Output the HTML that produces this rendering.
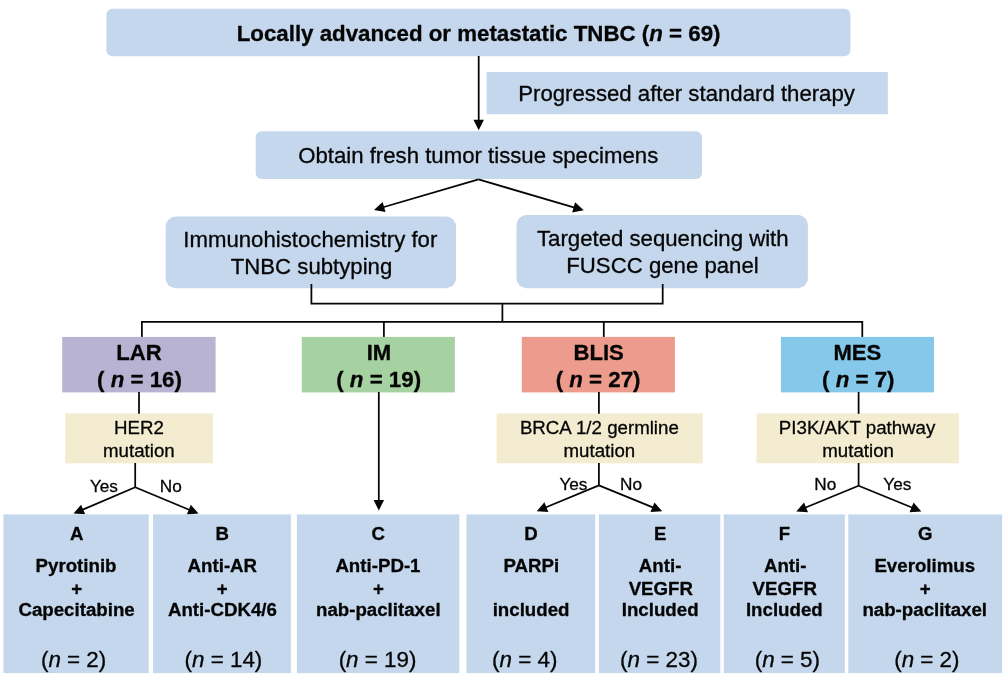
<!DOCTYPE html>
<html lang="en">
<head>
<meta charset="utf-8">
<title>TNBC trial flowchart</title>
<style>
html,body{margin:0;padding:0;background:#ffffff;}
body{width:1004px;height:675px;overflow:hidden;}
svg{display:block;}
#chart{filter:blur(0.45px);}
svg text{font-family:"Liberation Sans",Arial,Helvetica,sans-serif;fill:#050505;stroke:#050505;stroke-width:0.3px;stroke-linejoin:round;}
</style>
</head>
<body>
<svg width="1004" height="675" viewBox="0 0 1004 675">
<rect x="0" y="0" width="1004" height="675" fill="#ffffff"/>
<g id="chart">
<g id="shapes">
<rect x="106.4" y="8.7" width="744.0" height="47.5" fill="#c4d7ec" rx="6"/>
<rect x="486.6" y="72" width="401.2" height="42.2" fill="#c4d7ec"/>
<rect x="255.7" y="131.2" width="446.3" height="47.9" fill="#c4d7ec" rx="6"/>
<rect x="165.7" y="216.6" width="290.3" height="71.6" fill="#c4d7ec" rx="10"/>
<rect x="516.5" y="215" width="291.4" height="73.2" fill="#c4d7ec" rx="10"/>
<path d="M478.7 56 L478.70 120.70" stroke="#050505" stroke-width="1.75" fill="none"/>
<path d="M478.70 130.20 L473.45 119.70 L483.95 119.70 Z" fill="#050505"/>
<path d="M478.5 179.4 L383.12 207.24" stroke="#050505" stroke-width="1.75" fill="none"/>
<path d="M374.00 209.90 L382.61 201.92 L385.55 212.00 Z" fill="#050505"/>
<path d="M478.5 179.4 L574.59 207.62" stroke="#050505" stroke-width="1.75" fill="none"/>
<path d="M583.70 210.30 L572.15 212.38 L575.11 202.30 Z" fill="#050505"/>
<path d="M311.4 284 L311.4 303.7 L662.7 303.7 L662.7 284" fill="none" stroke="#050505" stroke-width="1.75"/>
<path d="M502.4 303.7 L502.4 321.9" fill="none" stroke="#050505" stroke-width="1.75"/>
<path d="M141.9 337.5 L141.9 321.9 L862.3 321.9 L862.3 337.5" fill="none" stroke="#050505" stroke-width="1.75"/>
<path d="M383.9 321.9 L383.9 337.5" fill="none" stroke="#050505" stroke-width="1.75"/>
<path d="M603.8 321.9 L603.8 337.5" fill="none" stroke="#050505" stroke-width="1.75"/>
<rect x="62.2" y="336.9" width="153.4" height="55.5" fill="#b8b3d2"/>
<rect x="301.8" y="336.9" width="153.1" height="55.5" fill="#a6d1a0"/>
<rect x="521.8" y="336.9" width="153.1" height="55.5" fill="#ec9b8c"/>
<rect x="780.9" y="336.9" width="153.1" height="55.5" fill="#86c8ea"/>
<rect x="65.2" y="413.4" width="147.7" height="49.9" fill="#f4ecd0"/>
<rect x="496.6" y="413.4" width="206.1" height="49.9" fill="#f4ecd0"/>
<rect x="756.5" y="413.4" width="202.4" height="49.9" fill="#f4ecd0"/>
<path d="M139 392 L139 413.8" fill="none" stroke="#050505" stroke-width="1.75"/>
<path d="M598.9 392 L598.9 413.8" fill="none" stroke="#050505" stroke-width="1.75"/>
<path d="M858.6 392 L858.6 413.8" fill="none" stroke="#050505" stroke-width="1.75"/>
<path d="M135.2 463 L135.2 487.4" fill="none" stroke="#050505" stroke-width="1.75"/>
<path d="M135.2 487.2 L82.23 509.86" stroke="#050505" stroke-width="1.75" fill="none"/>
<path d="M73.50 513.60 L81.09 504.64 L85.22 514.30 Z" fill="#050505"/>
<path d="M135.2 487.2 L189.73 509.94" stroke="#050505" stroke-width="1.75" fill="none"/>
<path d="M198.50 513.60 L186.79 514.40 L190.83 504.71 Z" fill="#050505"/>
<path d="M598.9 463 L598.9 485.6" fill="none" stroke="#050505" stroke-width="1.75"/>
<path d="M598.9 485.4 L545.48 507.56" stroke="#050505" stroke-width="1.75" fill="none"/>
<path d="M536.70 511.20 L544.39 502.33 L548.41 512.03 Z" fill="#050505"/>
<path d="M598.9 485.4 L653.40 507.61" stroke="#050505" stroke-width="1.75" fill="none"/>
<path d="M662.20 511.20 L650.50 512.10 L654.46 502.38 Z" fill="#050505"/>
<path d="M858.6 463 L858.6 486" fill="none" stroke="#050505" stroke-width="1.75"/>
<path d="M858.6 485.8 L805.09 507.79" stroke="#050505" stroke-width="1.75" fill="none"/>
<path d="M796.30 511.40 L804.02 502.55 L808.01 512.27 Z" fill="#050505"/>
<path d="M858.6 485.8 L912.50 507.81" stroke="#050505" stroke-width="1.75" fill="none"/>
<path d="M921.30 511.40 L909.59 512.29 L913.56 502.57 Z" fill="#050505"/>
<path d="M378.8 392 L378.80 500.90" stroke="#050505" stroke-width="1.75" fill="none"/>
<path d="M378.80 510.40 L373.55 499.90 L384.05 499.90 Z" fill="#050505"/>
<rect x="3.5" y="514.4" width="145.2" height="158.7" fill="#c4d7ec"/>
<rect x="153" y="514.4" width="137.9" height="158.7" fill="#c4d7ec"/>
<rect x="296.9" y="514.4" width="162.4" height="158.7" fill="#c4d7ec"/>
<rect x="466.4" y="514.4" width="128.8" height="158.7" fill="#c4d7ec"/>
<rect x="598.9" y="514.4" width="121.4" height="158.7" fill="#c4d7ec"/>
<rect x="723.8" y="514.4" width="121.1" height="158.7" fill="#c4d7ec"/>
<rect x="848.3" y="514.4" width="153.8" height="158.7" fill="#c4d7ec"/>
</g>
<g id="labels">
<text x="478.60" y="40.6" font-size="22.3" text-anchor="middle" font-weight="bold">Locally advanced or metastatic TNBC (<tspan font-style="italic">n</tspan> = 69)</text>
<text x="686.55" y="101.1" font-size="22.2" text-anchor="middle">Progressed after standard therapy</text>
<text x="478.20" y="162.7" font-size="22.2" text-anchor="middle">Obtain fresh tumor tissue specimens</text>
<text x="310.30" y="247.2" font-size="22.2" text-anchor="middle">Immunohistochemistry for</text>
<text x="311.50" y="273.8" font-size="22.2" text-anchor="middle">TNBC subtyping</text>
<text x="662.80" y="246" font-size="22.2" text-anchor="middle">Targeted sequencing with</text>
<text x="662.50" y="272.6" font-size="22.2" text-anchor="middle">FUSCC gene panel</text>
<text x="138.95" y="359.6" font-size="22.1" text-anchor="middle" font-weight="bold">LAR</text>
<text x="139.45" y="386.8" font-size="22.3" text-anchor="middle" font-weight="bold">( <tspan font-style="italic">n</tspan> = 16)</text>
<text x="378.90" y="359.6" font-size="22.1" text-anchor="middle" font-weight="bold">IM</text>
<text x="378.65" y="386.8" font-size="22.3" text-anchor="middle" font-weight="bold">( <tspan font-style="italic">n</tspan> = 19)</text>
<text x="598.65" y="359.6" font-size="22.1" text-anchor="middle" font-weight="bold">BLIS</text>
<text x="598.10" y="386.8" font-size="22.3" text-anchor="middle" font-weight="bold">( <tspan font-style="italic">n</tspan> = 27)</text>
<text x="857.40" y="359.6" font-size="22.1" text-anchor="middle" font-weight="bold">MES</text>
<text x="858.30" y="386.8" font-size="22.3" text-anchor="middle" font-weight="bold">( <tspan font-style="italic">n</tspan> = 7)</text>
<text x="138.95" y="434.4" font-size="18.7" text-anchor="middle">HER2</text>
<text x="138.90" y="457" font-size="18.7" text-anchor="middle">mutation</text>
<text x="599.35" y="434.4" font-size="18.7" text-anchor="middle">BRCA 1/2 germline</text>
<text x="599.35" y="457" font-size="18.7" text-anchor="middle">mutation</text>
<text x="857.10" y="434.4" font-size="18.7" text-anchor="middle">PI3K/AKT pathway</text>
<text x="858.10" y="457" font-size="18.7" text-anchor="middle">mutation</text>
<text x="103.90" y="491.8" font-size="17.2" text-anchor="middle">Yes</text>
<text x="170.85" y="491.8" font-size="17.2" text-anchor="middle">No</text>
<text x="573.40" y="489.8" font-size="17.2" text-anchor="middle">Yes</text>
<text x="631.05" y="489.8" font-size="17.2" text-anchor="middle">No</text>
<text x="825.25" y="490.1" font-size="17.2" text-anchor="middle">No</text>
<text x="897.35" y="490.1" font-size="17.2" text-anchor="middle">Yes</text>
<text x="76.70" y="539.7" font-size="18.6" text-anchor="middle" font-weight="bold">A</text>
<text x="76.05" y="572.4" font-size="18.7" text-anchor="middle" font-weight="bold">Pyrotinib</text>
<text x="76.70" y="594.6" font-size="18.7" text-anchor="middle" font-weight="bold">+</text>
<text x="76.60" y="616.3" font-size="18.7" text-anchor="middle" font-weight="bold">Capecitabine</text>
<text x="73.60" y="666.9" font-size="22.4" text-anchor="middle">(<tspan font-style="italic">n</tspan> = 2)</text>
<text x="222.10" y="539.7" font-size="18.6" text-anchor="middle" font-weight="bold">B</text>
<text x="222.35" y="572.4" font-size="18.7" text-anchor="middle" font-weight="bold">Anti-AR</text>
<text x="222.10" y="594.6" font-size="18.7" text-anchor="middle" font-weight="bold">+</text>
<text x="222.45" y="616.3" font-size="18.7" text-anchor="middle" font-weight="bold">Anti-CDK4/6</text>
<text x="223.40" y="666.9" font-size="22.4" text-anchor="middle">(<tspan font-style="italic">n</tspan> = 14)</text>
<text x="378.20" y="539.7" font-size="18.6" text-anchor="middle" font-weight="bold">C</text>
<text x="377.95" y="572.4" font-size="18.7" text-anchor="middle" font-weight="bold">Anti-PD-1</text>
<text x="378.40" y="594.6" font-size="18.7" text-anchor="middle" font-weight="bold">+</text>
<text x="378.30" y="616.3" font-size="18.7" text-anchor="middle" font-weight="bold">nab-paclitaxel</text>
<text x="377.55" y="666.9" font-size="22.4" text-anchor="middle">(<tspan font-style="italic">n</tspan> = 19)</text>
<text x="531.00" y="539.7" font-size="18.6" text-anchor="middle" font-weight="bold">D</text>
<text x="531.25" y="572.4" font-size="18.7" text-anchor="middle" font-weight="bold">PARPi</text>
<text x="531.10" y="616.3" font-size="18.7" text-anchor="middle" font-weight="bold">included</text>
<text x="524.75" y="666.9" font-size="22.4" text-anchor="middle">(<tspan font-style="italic">n</tspan> = 4)</text>
<text x="660.20" y="539.7" font-size="18.6" text-anchor="middle" font-weight="bold">E</text>
<text x="660.10" y="572.4" font-size="18.7" text-anchor="middle" font-weight="bold">Anti-</text>
<text x="660.85" y="594.6" font-size="18.7" text-anchor="middle" font-weight="bold">VEGFR</text>
<text x="660.15" y="616.3" font-size="18.7" text-anchor="middle" font-weight="bold">Included</text>
<text x="659.00" y="666.9" font-size="22.4" text-anchor="middle">(<tspan font-style="italic">n</tspan> = 23)</text>
<text x="784.50" y="539.7" font-size="18.6" text-anchor="middle" font-weight="bold">F</text>
<text x="785.20" y="572.4" font-size="18.7" text-anchor="middle" font-weight="bold">Anti-</text>
<text x="784.75" y="594.6" font-size="18.7" text-anchor="middle" font-weight="bold">VEGFR</text>
<text x="784.35" y="616.3" font-size="18.7" text-anchor="middle" font-weight="bold">Included</text>
<text x="787.35" y="666.9" font-size="22.4" text-anchor="middle">(<tspan font-style="italic">n</tspan> = 5)</text>
<text x="925.30" y="539.7" font-size="18.6" text-anchor="middle" font-weight="bold">G</text>
<text x="924.75" y="572.4" font-size="18.7" text-anchor="middle" font-weight="bold">Everolimus</text>
<text x="925.30" y="594.6" font-size="18.7" text-anchor="middle" font-weight="bold">+</text>
<text x="924.70" y="616.3" font-size="18.7" text-anchor="middle" font-weight="bold">nab-paclitaxel</text>
<text x="926.85" y="666.9" font-size="22.4" text-anchor="middle">(<tspan font-style="italic">n</tspan> = 2)</text>
</g>
</g>
</svg>
</body>
</html>
